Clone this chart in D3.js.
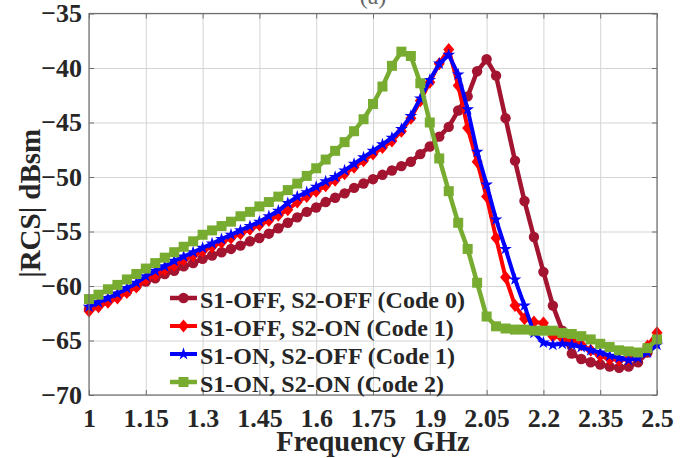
<!DOCTYPE html>
<html>
<head>
<meta charset="utf-8">
<script src="https://cdn.jsdelivr.net/npm/d3@7"></script>
<style>
  body { margin: 0; background: #fff; }
  text { font-family: "Liberation Serif", "Times New Roman", serif; font-weight: bold; fill: #262626; }
  .grid line { stroke: #d4d4d4; stroke-width: 1; }
  .grid path { display: none; }
  .axis path { display: none; }
  .axis line { stroke: #6e6e6e; }
  .axis text { font-size: 26px; }
  .chart-line { fill: none; stroke-linejoin: round; }
</style>
</head>
<body>
<svg id="chart"></svg>
<script>
// sweep points (GHz)
const freqGHz = [1.000, 1.025, 1.050, 1.075, 1.100, 1.125, 1.150, 1.175, 1.200, 1.225,
  1.250, 1.275, 1.300, 1.325, 1.350, 1.375, 1.400, 1.425, 1.450, 1.475,
  1.500, 1.525, 1.550, 1.575, 1.600, 1.625, 1.650, 1.675, 1.700, 1.725,
  1.750, 1.775, 1.800, 1.825, 1.850, 1.875, 1.900, 1.925, 1.950, 1.975,
  2.000, 2.025, 2.050, 2.075, 2.100, 2.125, 2.150, 2.175, 2.200, 2.225,
  2.250, 2.275, 2.300, 2.325, 2.350, 2.375, 2.400, 2.425, 2.450, 2.475, 2.500];

// |RCS| dBsm for each state
const rcsOffOff = [-62.1, -61.7, -61.3, -60.9, -60.5, -60.0, -59.6, -59.3, -58.9, -58.6,
  -58.2, -57.9, -57.5, -57.2, -56.9, -56.6, -56.3, -55.9, -55.6, -55.2,
  -54.7, -54.2, -53.7, -53.2, -52.8, -52.3, -51.9, -51.5, -51.0, -50.6,
  -50.2, -49.8, -49.4, -49.0, -48.6, -47.9, -47.2, -46.3, -45.4, -43.9,
  -42.6, -40.3, -39.2, -40.7, -44.6, -48.5, -52.2, -55.5, -58.7, -61.8,
  -64.1, -66.2, -66.7, -67.0, -67.2, -67.4, -67.5, -67.4, -67.0, -66.1, -65.0];

const rcsOffOn = [-62.3, -61.9, -61.5, -61.1, -60.6, -60.1, -59.4, -59.0, -58.5, -58.1,
  -57.6, -57.2, -56.8, -56.4, -56.0, -55.6, -55.2, -54.8, -54.4, -54.0,
  -53.5, -53.0, -52.3, -51.8, -51.3, -50.8, -50.3, -49.7, -49.1, -48.5,
  -47.9, -47.3, -46.7, -45.8, -44.6, -43.0, -41.3, -39.6, -38.3, -41.6,
  -45.5, -48.6, -51.8, -55.6, -59.2, -61.8, -63.0, -63.3, -63.4, -64.6,
  -64.8, -65.0, -65.4, -65.9, -66.4, -66.7, -66.8, -66.7, -66.3, -65.5, -64.3];

const rcsOnOff = [-61.9, -61.5, -61.1, -60.7, -60.2, -59.7, -59.1, -58.6, -58.2, -57.7,
  -57.3, -56.9, -56.5, -56.1, -55.7, -55.3, -54.9, -54.5, -54.1, -53.6,
  -53.1, -52.4, -51.8, -51.4, -50.9, -50.4, -50.0, -49.4, -48.8, -48.2,
  -47.6, -47.0, -46.4, -45.6, -44.4, -42.8, -41.1, -39.6, -38.8, -40.6,
  -43.8, -47.7, -50.7, -53.9, -56.6, -59.4, -61.8, -64.3, -65.2, -65.4,
  -65.3, -65.4, -65.6, -65.9, -66.1, -66.4, -66.6, -66.8, -66.6, -66.1, -65.4];

const rcsOnOn = [-61.2, -60.8, -60.3, -59.9, -59.4, -58.9, -58.4, -57.9, -57.4, -56.9,
  -56.4, -55.9, -55.3, -54.9, -54.5, -54.1, -53.6, -53.2, -52.7, -52.3,
  -51.8, -51.2, -50.6, -49.9, -49.2, -48.4, -47.6, -46.8, -45.8, -44.7,
  -43.3, -41.7, -39.8, -38.5, -38.9, -41.4, -45.0, -48.3, -51.3, -54.2,
  -56.6, -59.7, -62.8, -63.7, -63.9, -64.0, -64.0, -64.1, -64.1, -64.1,
  -64.3, -64.4, -64.6, -64.9, -65.3, -65.6, -65.9, -66.0, -66.1, -65.7, -64.9];

const seriesNames = ["S1-OFF, S2-OFF (Code 0)", "S1-OFF, S2-ON (Code 1)",
  "S1-ON, S2-OFF (Code 1)", "S1-ON, S2-ON (Code 2)"];
const xTicks = [1, 1.15, 1.3, 1.45, 1.6, 1.75, 1.9, 2.05, 2.2, 2.35, 2.5];
const xTickLabels = ["1", "1.15", "1.3", "1.45", "1.6", "1.75", "1.9", "2.05", "2.2", "2.35", "2.5"];
const yTicks = [-70, -65, -60, -55, -50, -45, -40, -35];

class rcsChart {
    constructor(_config) {
        this.config = {
            parentElement: _config.parentElement,
            containerWidth: _config.containerWidth || 697,
            containerHeight: _config.containerHeight || 458,
            margin: _config.margin || {top: 13.5, right: 40, bottom: 63, left: 89},
        }
        this.initVis();
    }

    initVis() {
        let vis = this;

        vis.width = vis.config.containerWidth - vis.config.margin.left - vis.config.margin.right;
        vis.height = vis.config.containerHeight - vis.config.margin.top - vis.config.margin.bottom;

        vis.xScale = d3.scaleLinear().domain([1, 2.5]).range([0, vis.width]);
        vis.yScale = d3.scaleLinear().domain([-70, -35]).range([vis.height, 0]);

        vis.svg = d3.select(vis.config.parentElement)
            .attr('width', vis.config.containerWidth)
            .attr('height', vis.config.containerHeight);

        // panel label, mostly cut off at the top like the source figure
        vis.svg.append('text')
            .attr('x', vis.config.margin.left + vis.width / 2)
            .attr('y', 4)
            .attr('text-anchor', 'middle')
            .style('font-size', '24px')
            .style('font-weight', 'normal')
            .style('fill', '#666')
            .text('(a)');

        vis.chart = vis.svg.append('g')
            .attr('transform', `translate(${vis.config.margin.left},${vis.config.margin.top})`);

        // grid
        vis.chart.append('g')
            .attr('class', 'grid')
            .attr('transform', `translate(0,${vis.height})`)
            .call(d3.axisBottom(vis.xScale).tickValues(xTicks).tickSize(-vis.height).tickFormat(''));
        vis.chart.append('g')
            .attr('class', 'grid')
            .call(d3.axisLeft(vis.yScale).tickValues(yTicks).tickSize(-vis.width).tickFormat(''));

        vis.xAxisG = vis.chart.append('g')
            .attr('class', 'axis x-axis')
            .attr('transform', `translate(0,${vis.height})`);
        vis.yAxisG = vis.chart.append('g')
            .attr('class', 'axis y-axis');
        vis.yAxisRG = vis.chart.append('g')
            .attr('class', 'axis y-axis')
            .attr('transform', `translate(${vis.width},0)`);
        vis.xAxisTG = vis.chart.append('g')
            .attr('class', 'axis x-axis');

        vis.marks = vis.chart.append('g');

        // box
        vis.chart.append('rect')
            .attr('width', vis.width)
            .attr('height', vis.height)
            .attr('fill', 'none')
            .attr('stroke', '#6e6e6e')
            .attr('stroke-width', 1.2);

        // axis titles
        vis.chart.append('text')
            .attr('x', vis.width / 2)
            .attr('y', vis.height + 56)
            .attr('text-anchor', 'middle')
            .style('font-size', '28.5px')
            .text('Frequency GHz');
        vis.chart.append('text')
            .attr('transform', `translate(${-49},${vis.height / 2 - 1}) rotate(-90)`)
            .attr('text-anchor', 'middle')
            .style('font-size', '29px')
            .text('|RCS| dBsm');

        vis.legend = vis.chart.append('g');
    }

    updateVis() {
        let vis = this;

        vis.series = [
            {name: seriesNames[0], values: rcsOffOff, color: '#A2142F', width: 4.5, marker: 'circle'},
            {name: seriesNames[1], values: rcsOffOn, color: '#FF0000', width: 4, marker: 'diamond'},
            {name: seriesNames[2], values: rcsOnOff, color: '#0000FF', width: 4, marker: 'star'},
            {name: seriesNames[3], values: rcsOnOn, color: '#77AC30', width: 4.5, marker: 'square'},
        ];

        vis.line = d3.line()
            .x((d, i) => vis.xScale(freqGHz[i]))
            .y(d => vis.yScale(d));

        vis.markerPath = {
            circle: d3.symbol().type(d3.symbolCircle).size(85)(),
            diamond: 'M0,-6.5L5.5,0L0,6.5L-5.5,0Z',
            star: d3.symbol().type(d3.symbolStar).size(50)(),
            square: 'M-5,-5H5V5H-5Z',
        };

        vis.xAxis = d3.axisBottom(vis.xScale)
            .tickValues(xTicks)
            .tickFormat((d, i) => xTickLabels[i])
            .tickSizeInner(-5).tickSizeOuter(0).tickPadding(14);
        vis.yAxis = d3.axisLeft(vis.yScale)
            .tickValues(yTicks)
            .tickSizeInner(-5).tickSizeOuter(0).tickPadding(7);

        vis.renderVis();
    }

    renderVis() {
        let vis = this;

        vis.series.forEach(s => {
            vis.marks.append('path')
                .datum(s.values)
                .attr('class', 'chart-line')
                .attr('d', vis.line)
                .attr('stroke', s.color)
                .attr('stroke-width', s.width);

            vis.marks.append('g').selectAll('path')
                .data(s.values)
                .join('path')
                .attr('transform', (d, i) => `translate(${vis.xScale(freqGHz[i])},${vis.yScale(d)})`)
                .attr('d', vis.markerPath[s.marker])
                .attr('fill', s.color);
        });

        // legend (no box, sits inside the axes)
        const rows = vis.legend.selectAll('g')
            .data(vis.series)
            .join('g')
            .attr('transform', (d, i) => `translate(${81},${298 + i * 28 - vis.config.margin.top})`);
        rows.append('line')
            .attr('x1', 0).attr('x2', 27)
            .attr('stroke', d => d.color)
            .attr('stroke-width', d => d.width);
        rows.append('path')
            .attr('transform', 'translate(13.5,0)')
            .attr('d', d => vis.markerPath[d.marker])
            .attr('fill', d => d.color);
        rows.append('text')
            .attr('x', 30)
            .attr('dy', '0.4em')
            .style('font-size', '24px')
            .text(d => d.name);

        vis.xAxisG.call(vis.xAxis);
        vis.yAxisG.call(vis.yAxis);
        vis.yAxisRG.call(d3.axisRight(vis.yScale).tickValues(yTicks).tickSizeInner(-5).tickSizeOuter(0).tickFormat(''));
        vis.xAxisTG.call(d3.axisTop(vis.xScale).tickValues(xTicks).tickSizeInner(-5).tickSizeOuter(0).tickFormat(''));
    }
}

const chart = new rcsChart({parentElement: '#chart'});
chart.updateVis();
</script>
</body>
</html>
